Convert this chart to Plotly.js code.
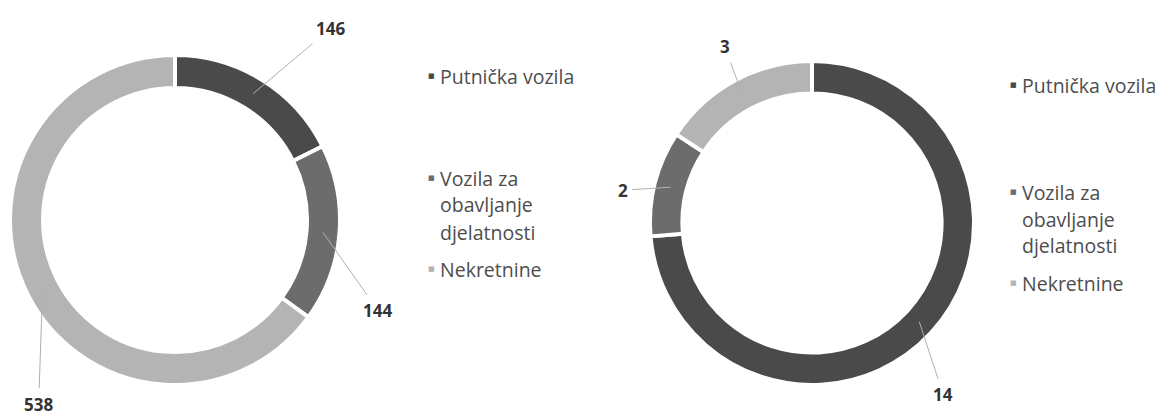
<!DOCTYPE html>
<html>
<head>
<meta charset="utf-8">
<script src="https://cdn.plot.ly/plotly-3.0.1.min.js"></script>
<style>html,body{margin:0;padding:0;background:#fff;}#chart{width:1155px;height:415px;}</style>
</head>
<body>
<div id="chart"></div>
<script>
// ---- data ----
const categories = ["Putnička vozila", "Vozila za obavljanje djelatnosti", "Nekretnine"];
const legendLines = [["Putnička vozila"], ["Vozila za", "obavljanje", "djelatnosti"], ["Nekretnine"]];
const valuesLeft = [146, 144, 538];
const valuesRight = [14, 2, 3];

// ---- style ----
const W = 1155, H = 415;
const colors = ["#4a4a4a", "#6c6c6c", "#b4b4b4"];
const HOLE = 0.8;
const domLeft = {x: [10 / W, 340 / W], y: [30 / H, 360 / H]};
const domRight = {x: [650 / W, 974 / W], y: [30 / H, 354 / H]};
// label offsets (px) from slice mid-ring point to label
const offLeft = [[77, -65], [55, 78], [-4, 117]];
const offRight = [[24, 73], [-48, 3], [-18, -48]];
// legend layout
const legLeft = {xb: 431, xt: 438, ys: [[76], [178, 205, 232], [269]]};
const legRight = {xb: 1013, xt: 1020, ys: [[85], [192, 219, 245], [283]]};

function pieTrace(values, dom) {
  return {
    type: "pie", values: values, labels: categories, domain: dom,
    hole: HOLE, sort: false, direction: "clockwise", rotation: 0,
    textinfo: "none", hoverinfo: "label+value",
    marker: {colors: colors, line: {color: "#ffffff", width: 4}},
    showlegend: false
  };
}

function labelAnnotations(values, dom, offs) {
  const cx = (dom.x[0] + dom.x[1]) / 2 * W;
  const cy = H - (dom.y[0] + dom.y[1]) / 2 * H;
  const R = Math.min((dom.x[1] - dom.x[0]) * W, (dom.y[1] - dom.y[0]) * H) / 2;
  const rMid = R * (1 + HOLE) / 2;
  const total = values.reduce((a, b) => a + b, 0);
  let cum = 0;
  return values.map((v, i) => {
    const mid = (cum + v / 2) / total; cum += v;
    const th = mid * 2 * Math.PI;
    const px = cx + rMid * Math.sin(th);
    const py = cy - rMid * Math.cos(th);
    return {
      xref: "paper", yref: "paper", x: px / W, y: 1 - py / H,
      ax: offs[i][0], ay: offs[i][1],
      text: String(v), showarrow: true, arrowhead: 0, arrowwidth: 1,
      arrowcolor: "#b0b0b0", standoff: 0, startstandoff: 3,
      font: {family: "Open Sans, sans-serif", size: 17, color: "#333333", weight: "bold"}
    };
  });
}

function legendAnnotations(leg) {
  const out = [];
  legendLines.forEach((lines, i) => {
    out.push({
      xref: "paper", yref: "paper", x: leg.xb / W, y: 1 - leg.ys[i][0] / H,
      xanchor: "center", yanchor: "middle", showarrow: false,
      text: "■", font: {family: "DejaVu Sans", size: 7, color: colors[i]}
    });
    lines.forEach((ln, j) => {
      out.push({
        xref: "paper", yref: "paper", x: leg.xt / W, y: 1 - leg.ys[i][j] / H,
        xanchor: "left", yanchor: "middle", showarrow: false,
        text: ln, font: {family: "Open Sans, sans-serif", size: 19.5, color: "#4d4d4d"}
      });
    });
  });
  return out;
}

const data = [pieTrace(valuesLeft, domLeft), pieTrace(valuesRight, domRight)];
const layout = {
  width: W, height: H,
  margin: {l: 0, r: 0, t: 0, b: 0},
  paper_bgcolor: "#ffffff", plot_bgcolor: "#ffffff",
  showlegend: false,
  annotations: [].concat(
    labelAnnotations(valuesLeft, domLeft, offLeft),
    labelAnnotations(valuesRight, domRight, offRight),
    legendAnnotations(legLeft),
    legendAnnotations(legRight)
  )
};
Plotly.newPlot("chart", data, layout, {displayModeBar: false, staticPlot: true});
</script>
</body>
</html>
